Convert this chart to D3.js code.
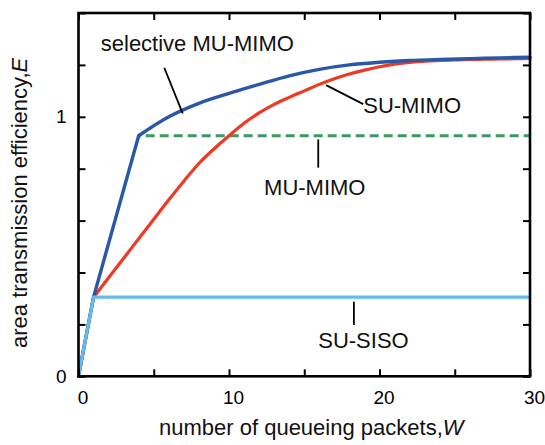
<!DOCTYPE html>
<html>
<head>
<meta charset="utf-8">
<script src="https://cdn.jsdelivr.net/npm/d3@7/dist/d3.min.js"></script>
<style>
  html, body { margin: 0; padding: 0; background: #fff; }
  svg { display: block; font-family: "Liberation Sans", Arial, Helvetica, sans-serif; }
</style>
</head>
<body>
<svg id="chart" width="545" height="445"></svg>
<script>
// ---- data ----
const suSisoX = [0, 1, 30];
const suSisoY = [0, 0.305, 0.305];

const muMimoX = [4, 30];
const muMimoY = [0.927, 0.927];

const selMuMimoX = [0, 1, 4, 6, 8, 10, 12, 14, 16, 18, 20, 22, 24, 26, 28, 30];
const selMuMimoY = [0, 0.305, 0.927, 1.0, 1.052, 1.09, 1.125, 1.158, 1.183, 1.2, 1.21, 1.217, 1.221, 1.224, 1.227, 1.23];

const suMimoX = [0, 1, 2, 3, 4, 5, 6, 7, 8, 9, 10, 11, 12, 13, 14, 15, 16, 17, 18, 19, 20, 21, 22, 23, 24, 25, 26, 27, 28, 29, 30];
const suMimoY = [0, 0.305, 0.38, 0.455, 0.53, 0.605, 0.68, 0.752, 0.82, 0.876, 0.927, 0.975, 1.015, 1.048, 1.075, 1.1, 1.125, 1.147, 1.165, 1.18, 1.193, 1.203, 1.21, 1.214, 1.217, 1.219, 1.221, 1.222, 1.223, 1.224, 1.225];

const xTicks = [0, 5, 10, 15, 20, 25, 30];
const xTickLabels = ["0", "", "10", "", "20", "", "30"];
const yTicks = [0, 0.2, 0.4, 0.6, 0.8, 1.0, 1.2, 1.4];
const yTickLabels = ["0", "", "", "", "", "1", "", ""];

const seriesNames = ["selective MU-MIMO", "SU-MIMO", "MU-MIMO", "SU-SISO"];
const xTitle = "number of queueing packets,";
const xTitleVar = "W";
const yTitle = "area transmission efficiency,";
const yTitleVar = "E";

// ---- layout ----
const L = 78.5, R = 530, T = 13, B = 376.3;
const svg = d3.select("#chart");
const x = d3.scaleLinear().domain([0, 30]).range([L, R]);
const y = d3.scaleLinear().domain([0, 1.4]).range([B, T]);

const zip = (xs, ys) => xs.map((v, i) => [v, ys[i]]);
const line = d3.line().x(d => x(d[0])).y(d => y(d[1]));
const smooth = d3.line().x(d => x(d[0])).y(d => y(d[1])).curve(d3.curveMonotoneX);
// straight segments up to the kink index, then a smooth curve
const kinked = (pts, k) => line(pts.slice(0, k + 1)) + smooth(pts.slice(k));

// series
svg.append("path").datum(zip(muMimoX, muMimoY)).attr("d", line)
  .attr("fill", "none").attr("stroke", "#3a9a62").attr("stroke-width", 3.2)
  .attr("stroke-dasharray", "9,5").attr("stroke-dashoffset", -7);
svg.append("path").attr("d", kinked(zip(suMimoX, suMimoY), 1))
  .attr("fill", "none").attr("stroke", "#ee3a24").attr("stroke-width", 3.2)
  .attr("stroke-linejoin", "round").attr("stroke-linecap", "round");
svg.append("path").attr("d", kinked(zip(selMuMimoX, selMuMimoY), 2))
  .attr("fill", "none").attr("stroke", "#2a58a8").attr("stroke-width", 3.4)
  .attr("stroke-linejoin", "round").attr("stroke-linecap", "round");
svg.append("path").datum(zip(suSisoX, suSisoY)).attr("d", line)
  .attr("fill", "none").attr("stroke", "#62bdea").attr("stroke-width", 3.2)
  .attr("stroke-linejoin", "round");

// axes (inward ticks on all sides)
const tickLen = 7;
const axB = d3.axisBottom(x).tickValues(xTicks).tickSizeInner(-tickLen).tickSizeOuter(0)
  .tickFormat((d, i) => xTickLabels[i]).tickPadding(14);
const axT = d3.axisTop(x).tickValues(xTicks).tickSizeInner(-tickLen).tickSizeOuter(0).tickFormat("");
const axL = d3.axisLeft(y).tickValues(yTicks).tickSizeInner(-tickLen).tickSizeOuter(0)
  .tickFormat((d, i) => yTickLabels[i]).tickPadding(12);
const axR = d3.axisRight(y).tickValues(yTicks).tickSizeInner(-tickLen).tickSizeOuter(0).tickFormat("");

function style(g) {
  g.select(".domain").remove();
  g.selectAll(".tick line").attr("stroke", "#000").attr("stroke-width", 2);
  g.selectAll(".tick text").attr("fill", "#000").attr("font-size", 19)
    .attr("font-family", "'Liberation Sans', Arial, sans-serif");
}
svg.append("g").attr("transform", `translate(0,${B})`).call(axB).call(style)
  .selectAll(".tick text").attr("dx", 4);
svg.append("g").attr("transform", `translate(0,${T})`).call(axT).call(style);
svg.append("g").attr("transform", `translate(${L},0)`).call(axL).call(style);
svg.append("g").attr("transform", `translate(${R},0)`).call(axR).call(style);

// frame
svg.append("rect").attr("x", L).attr("y", T).attr("width", R - L).attr("height", B - T)
  .attr("fill", "none").attr("stroke", "#000").attr("stroke-width", 2.6);

// annotations (anchored in data units)
const annText = [
  {t: seriesNames[0], x: 1.48, y: 1.253},
  {t: seriesNames[1], x: 18.92, y: 1.015},
  {t: seriesNames[2], x: 12.33, y: 0.698},
  {t: seriesNames[3], x: 15.93, y: 0.110}
];
const annLines = [
  [[5.70, 1.189], [6.92, 1.013]],
  [[16.45, 1.122], [18.92, 1.049]],
  [[15.93, 0.913], [15.93, 0.804]],
  [[18.3, 0.287], [18.3, 0.198]]
];
annLines.forEach(s => {
  svg.append("line").attr("x1", x(s[0][0])).attr("y1", y(s[0][1]))
    .attr("x2", x(s[1][0])).attr("y2", y(s[1][1]))
    .attr("stroke", "#000").attr("stroke-width", 1.8);
});
annText.forEach(a => {
  svg.append("text").attr("x", x(a.x)).attr("y", y(a.y)).text(a.t)
    .attr("font-size", 22).attr("fill", "#111");
});

// axis titles
const xt = svg.append("text").attr("x", 159).attr("y", 435).attr("font-size", 22).attr("fill", "#111");
xt.append("tspan").text(xTitle);
xt.append("tspan").attr("font-style", "italic").text(xTitleVar);

const yt = svg.append("text").attr("transform", "translate(27,348) rotate(-90)")
  .attr("font-size", 22).attr("fill", "#111");
yt.append("tspan").text(yTitle);
yt.append("tspan").attr("font-style", "italic").text(yTitleVar);
</script>
</body>
</html>
